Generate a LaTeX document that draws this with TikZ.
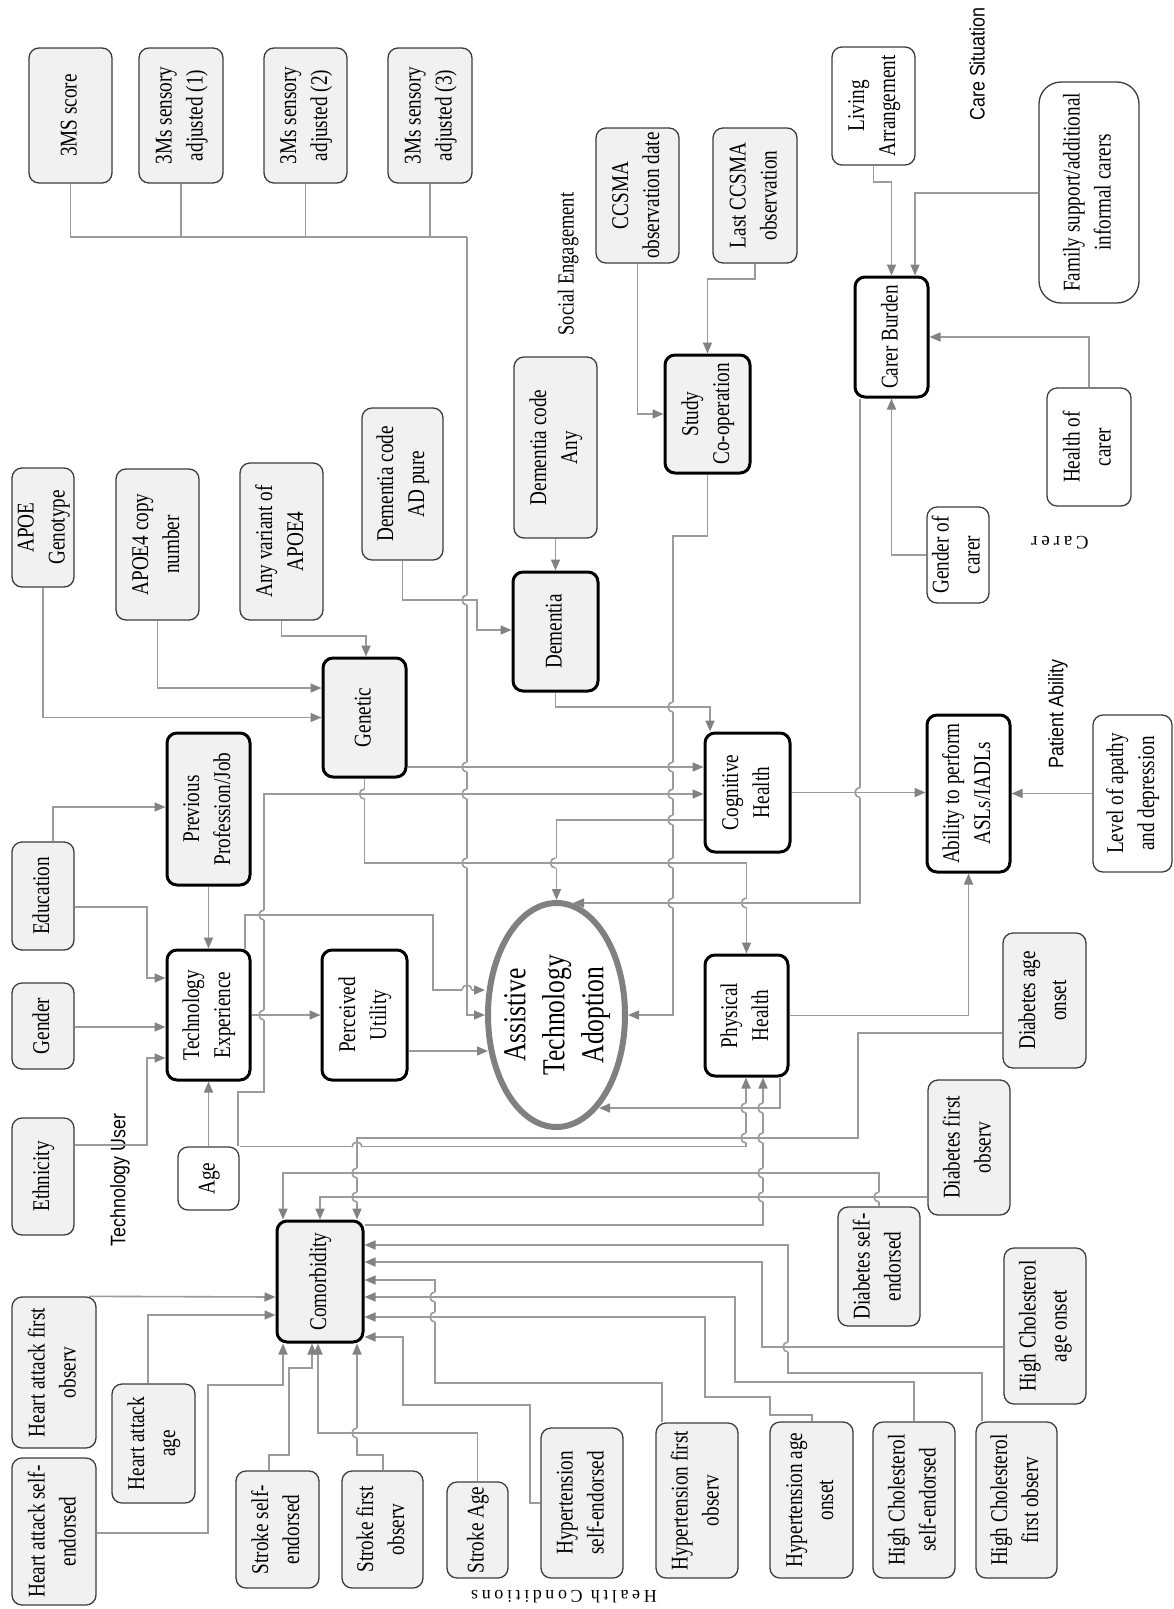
\documentclass[tikz,border=0pt]{standalone}
\usepackage{fontspec}
\setmainfont[FakeStretch=0.8]{Liberation Serif}
\newfontfamily\lsans[FakeStretch=0.85]{Liberation Sans}
\newfontfamily\lspaced[LetterSpace=20]{Liberation Serif}
\usetikzlibrary{arrows.meta,shapes.geometric}
\definecolor{fillg}{RGB}{241,241,241}
\definecolor{boxc}{RGB}{60,60,60}
\definecolor{linec}{RGB}{155,155,155}
\definecolor{arrc}{RGB}{130,130,130}
\definecolor{ellc}{RGB}{128,128,128}
\newcommand\bfnt{\fontsize{24}{31}\selectfont}
\newcommand\rt[1]{\rotatebox{90}{\begin{tabular}{@{}c@{}}#1\end{tabular}}}
\newcommand\vhop[2]{%
  \fill[white] (#1-1.8,#2-5) rectangle (#1+1.8,#2+5);
  \draw[ln] (#1-6,#2) -- (#1+6,#2);
  \draw[ln] (#1,#2-5) arc[start angle=90,end angle=270,radius=5pt];}
\newcommand\hhop[2]{%
  \fill[white] (#1-5,#2-1.8) rectangle (#1+5,#2+1.8);
  \draw[ln] (#1,#2-6) -- (#1,#2+6);
  \draw[ln] (#1-5,#2) arc[start angle=180,end angle=0,radius=5pt];}
\tikzset{
  box/.style={draw=boxc, line width=1.3pt, rounded corners=10pt, inner sep=0pt, align=center, font=\bfnt},
  gbox/.style={box, fill=fillg},
  wbox/.style={box, fill=white},
  heavy/.style={draw=black, line width=3pt},
  ln/.style={draw=linec, line width=1.6pt},
  ar/.style={ln, -{Triangle[length=11pt,width=9pt,color=arrc]}},
  lab/.style={inner sep=0pt},
}
\begin{document}
\begin{tikzpicture}[x=1pt,y=-1pt]
\fill[white] (0,0) rectangle (1174,1609);
\useasboundingbox (0,0) rectangle (1174,1609);

% ---------- nodes ----------
\node[gbox,minimum width=83,minimum height=135] (ms0) at (70.5,115.5) {\rt{3MS score}};
\node[gbox,minimum width=84,minimum height=135] (ms1) at (181,115.5) {\rt{3Ms sensory\\adjusted (1)}};
\node[gbox,minimum width=83,minimum height=135] (ms2) at (305.5,115.5) {\rt{3Ms sensory\\adjusted (2)}};
\node[gbox,minimum width=84,minimum height=135] (ms3) at (430,115.5) {\rt{3Ms sensory\\adjusted (3)}};
\node[gbox,minimum width=83,minimum height=135] (ccd) at (637.5,195.5) {\rt{CCSMA\\observation date}};
\node[gbox,minimum width=84,minimum height=135] (lcc) at (755,195.5) {\rt{Last CCSMA\\observation}};
\node[gbox,heavy,minimum width=85,minimum height=118] (study) at (707.5,414) {\rt{Study\\Co-operation}};
\node[wbox,minimum width=83,minimum height=118] (la) at (873.5,106) {\rt{Living\\Arrangement}};
\node[wbox,rounded corners=22pt,minimum width=100,minimum height=221] (fam) at (1089,192.5) {\rt{Family support/additional\\informal carers}};
\node[wbox,heavy,minimum width=73,minimum height=120] (cb) at (891.5,337) {\rt{Carer Burden}};
\node[wbox,minimum width=84,minimum height=118] (hoc) at (1089,447) {\rt{Health of\\carer}};
\node[wbox,minimum width=62,minimum height=96] (goc) at (958,555) {\rt{Gender of\\carer}};
\node[wbox,heavy,minimum width=83,minimum height=157] (abil) at (968.5,793.5) {\rt{Ability to perform\\ASLs/IADLs}};
\node[wbox,minimum width=79,minimum height=157] (lad) at (1132.5,793.5) {\rt{Level of apathy\\and depression}};
\node[gbox,minimum width=83,minimum height=135] (dao) at (1044.5,1000.5) {\rt{Diabetes age\\onset}};
\node[gbox,minimum width=82,minimum height=135] (dfo) at (969,1147.5) {\rt{Diabetes first\\observ}};
\node[gbox,minimum width=82,minimum height=119] (dse) at (879,1266.5) {\rt{Diabetes self-\\endorsed}};
\node[gbox,minimum width=82,minimum height=156] (hcao) at (1045,1326) {\rt{High Cholesterol\\age onset}};
\node[gbox,minimum width=81,minimum height=156] (hcfo) at (1016.5,1500) {\rt{High Cholesterol\\first observ}};
\node[gbox,minimum width=82,minimum height=156] (hcse) at (914,1500) {\rt{High Cholesterol\\self-endorsed}};
\node[gbox,minimum width=83,minimum height=156] (htao) at (811.5,1500) {\rt{Hypertension age\\onset}};
\node[gbox,minimum width=82,minimum height=155] (htfo) at (697,1500.5) {\rt{Hypertension first\\observ}};
\node[gbox,minimum width=82,minimum height=150] (htse) at (582,1503) {\rt{Hypertension\\self-endorsed}};
\node[gbox,minimum width=61,minimum height=96] (sa) at (477.5,1530) {\rt{Stroke Age}};
\node[gbox,minimum width=81,minimum height=117] (sfo) at (382.5,1529.5) {\rt{Stroke first\\observ}};
\node[gbox,minimum width=83,minimum height=117] (sse) at (277.5,1529.5) {\rt{Stroke self-\\endorsed}};
\node[gbox,minimum width=83,minimum height=119] (haa) at (153.5,1443.5) {\rt{Heart attack\\age}};
\node[gbox,minimum width=84,minimum height=147] (hase) at (54,1531.5) {\rt{Heart attack self-\\endorsed}};
\node[gbox,minimum width=84,minimum height=151] (hafo) at (54,1372.5) {\rt{Heart attack first\\observ}};
\node[gbox,heavy,minimum width=86,minimum height=121] (como) at (320,1281.5) {\rt{Comorbidity}};
\node[wbox,minimum width=61,minimum height=63] (age) at (208.5,1178.5) {\rt{Age}};
\node[gbox,minimum width=62,minimum height=117] (eth) at (43,1176.5) {\rt{Ethnicity}};
\node[gbox,minimum width=62,minimum height=86] (gen) at (43,1026) {\rt{Gender}};
\node[gbox,minimum width=62,minimum height=108] (edu) at (43,896) {\rt{Education}};
\node[wbox,heavy,minimum width=83,minimum height=130] (te) at (208.5,1015) {\rt{Technology\\Experience}};
\node[wbox,heavy,minimum width=85,minimum height=130] (pu) at (364.5,1015) {\rt{Perceived\\Utility}};
\node[gbox,heavy,minimum width=83,minimum height=152] (prev) at (208.5,809) {\rt{Previous\\Profession/Job}};
\node[gbox,minimum width=62,minimum height=119] (apoeg) at (43,527.5) {\rt{APOE\\Genotype}};
\node[gbox,minimum width=83,minimum height=151] (apoec) at (157.5,544.5) {\rt{APOE4 copy\\number}};
\node[gbox,minimum width=83,minimum height=157] (apoev) at (281.5,541.5) {\rt{Any variant of\\APOE4}};
\node[gbox,minimum width=81,minimum height=152] (adp) at (402.5,484) {\rt{Dementia code\\AD pure}};
\node[gbox,minimum width=83,minimum height=181] (dca) at (555.5,447.5) {\rt{Dementia code\\Any}};
\node[gbox,heavy,minimum width=83,minimum height=119] (genet) at (364.5,717.5) {\rt{Genetic}};
\node[gbox,heavy,minimum width=85,minimum height=119] (dem) at (555.5,631.5) {\rt{Dementia}};
\node[wbox,heavy,minimum width=85,minimum height=119] (cog) at (747.5,792.5) {\rt{Cognitive\\Health}};
\node[wbox,heavy,minimum width=83,minimum height=121] (ph) at (746.5,1015.5) {\rt{Physical\\Health}};
\node[ellipse,draw=ellc,line width=6pt,fill=white,minimum width=137,minimum height=224,inner sep=0pt] (ata) at (556.5,1015) {};
\node[lab,font=\fontsize{32}{39}\selectfont] (atat) at (ata.center) {\rt{Assistive\\Technology\\Adoption}};

% ---------- group labels ----------
\node[lab] (lsoc) at (568,264) {\rotatebox{90}{\fontsize{23}{27}\selectfont Social Engagement}};
\node[lab] (lcs) at (977,64) {\rotatebox{90}{\lsans\fontsize{21}{25}\selectfont Care Situation}};
\node[lab] (lcar) at (1060,543) {\rotatebox{180}{\lspaced\fontsize{19}{23}\selectfont Carer}};
\node[lab] (lpa) at (1058,714) {\rotatebox{90}{\lsans\fontsize{21}{25}\selectfont Patient Ability}};
\node[lab] (ltu) at (120,1180) {\rotatebox{90}{\lsans\fontsize{21}{25}\selectfont Technology User}};
\node[lab] (lhc) at (564,1597) {\rotatebox{180}{\lspaced\fontsize{18}{21}\selectfont Health Conditions}};

% ---------- connectors ----------
% 3MS bus
\draw[ln] (ms0.south) |- (467,237);
\draw[ln] (ms1.south) -- (ms1.south |- 0,237);
\draw[ln] (ms2.south) -- (ms2.south |- 0,237);
\draw[ln] (ms3.south) -- (ms3.south |- 0,237);
\draw[ar] (467,237) |- (ata.west);
% social engagement
\draw[ar] (ccd.south) |- (study.west);
\draw[ar] (lcc.south) -- (lcc.south |- 0,279) -| (study.north);
\draw[ar] (study.south) |- (673,536) |- (ata.east);
% care situation / carer
\draw[ar] (la.south) -- (la.south |- 0,182) -| (cb.north);
\draw[ar] (fam.west |- 0,193) -| (cb.north -| 915,0);
\draw[ar] (hoc.north) |- (cb.east);
\draw[ar] (goc.west) -| (cb.south);
\draw[ar] (cb.south -| 860,0) |- (573,903);
% patient ability
\draw[ar] (cog.east) -- (abil.west |- cog.east);
\draw[ar] (lad.west) -- (abil.east);
\draw[ar] (ph.east) -| (abil.south);
% dementia
\draw[ar] (dca.south) -- (dem.north);
\draw[ar] (adp.south) |- (477,600) |- (dem.west |- 0,630);
\draw[ar] (dem.south) -- (dem.south |- 0,707) -| (cog.north -| 710,0);
% genetic
\draw[ar] (apoeg.south) |- (genet.west);
\draw[ar] (apoec.south) |- (genet.west |- 0,688);
\draw[ar] (apoev.south) -- (apoev.south |- 0,636) -| (genet.north -| 366,0);
\draw[ar] (genet.east |- 0,767) -- (cog.west |- 0,767);
\draw[ar] (genet.south) -- (genet.south |- 0,863) -| (ph.north);
% age
\draw[ar] (age.north) -- (te.south);
\draw[ar] (age.north -| 238,0) -- (238,1092) -- (264,1092) |- (cog.west |- 0,794);
\draw[ar] (age.north east) -| (ph.south -| 746,0);
% technology user
\draw[ar] (te.north -| 245,0) |- (433,915) |- (ata.west |- 0,990);
\draw[ar] (te.east) -- (pu.west);
\draw[ar] (pu.east |- 0,1051) -- (488,1051);
\draw[ar] (prev.south) -- (te.north);
\draw[ar] (edu.north -| 53,0) |- (prev.west |- 0,807);
\draw[ar] (edu.east |- 0,907) -| (147,978) -- (te.west |- 0,978);
\draw[ar] (gen.east |- 0,1027) -- (te.west |- 0,1027);
\draw[ar] (eth.east |- 0,1145) -| (147,1058) -- (te.west |- 0,1058);
% cognitive / physical -> adoption
\draw[ar] (cog.west |- 0,820) -| (ata.north);
\draw[ar] (ph.south -| 780,0) |- (599,1108);
% diabetes
\draw[ar] (dao.west |- 0,1033) -| (858,1138) -| (como.north -| 357,0);
\draw[ar] (dse.north) |- (283,1173) -- (como.north -| 283,0);
\draw[ar] (dfo.west |- 0,1197) -| (como.north -| 320,0);
% comorbidity -> physical health
\draw[ar] (como.east |- 0,1225) -| (ph.south -| 763,0);
% high cholesterol
\draw[ar] (hcao.west |- 0,1347) -| (762,1262) -- (como.east |- 0,1262);
\draw[ar] (hcfo.north -| 982,0) |- (788,1373) |- (como.east |- 0,1245);
\draw[ar] (hcse.north) |- (735,1382) |- (como.east |- 0,1297);
% hypertension
\draw[ar] (htao.north -| 812,0) |- (770,1415) |- (705,1397) |- (como.east |- 0,1317);
\draw[ar] (htfo.north -| 662,0) |- (435,1383) |- (como.east |- 0,1280);
\draw[ar] (htse.west |- 0,1503) -| (530,1405) -| (403,1337) -- (como.east |- 0,1337);
% stroke
\draw[ar] (sa.north) |- (318,1433) -- (como.south -| 318,0);
\draw[ar] (sfo.north -| 383,0) |- (357,1455) -- (como.south -| 357,0);
\draw[ar] (sse.north -| 269,0) |- (289,1455) |- (312,1368) -- (como.south -| 312,0);
% heart attack
\draw[ar] (hase.east |- 0,1533) -| (208,1385) -| (como.south -| 283,0);
\draw[ar] (haa.north -| 148,0) |- (como.west |- 0,1315);
\draw[ar] (hafo.north -| 89,0) -- (como.west |- 0,1297);

% ---------- line hops ----------
\vhop{467}{600}\vhop{467}{767}\vhop{467}{794}\vhop{467}{863}\hhop{467}{990}
\vhop{673}{707}\vhop{673}{767}\vhop{673}{794}\vhop{673}{820}\vhop{673}{863}\vhop{673}{903}
\vhop{264}{915}\vhop{264}{1015}
\vhop{364.5}{794}
\vhop{555.5}{863}
\vhop{746.5}{903}
\vhop{860}{792.5}
\vhop{746}{1138}\vhop{746}{1108}
\vhop{763}{1108}\vhop{763}{1138}\vhop{763}{1173}\vhop{763}{1197}
\hhop{357}{1147}\vhop{357}{1173}\vhop{357}{1197}
\vhop{879}{1197}
\vhop{788}{1347}
\vhop{435}{1297}\vhop{435}{1317}
\vhop{357}{1433}
\end{tikzpicture}
\end{document}
